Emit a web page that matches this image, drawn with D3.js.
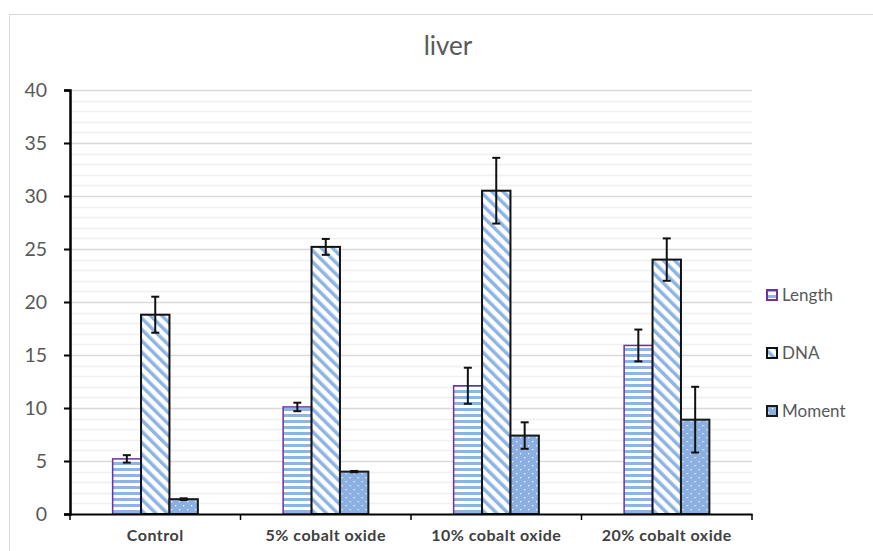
<!DOCTYPE html>
<html><head><meta charset="utf-8">
<script src="https://cdn.jsdelivr.net/npm/d3@7"></script>
<style>body{margin:0;background:#fff;font-family:Lato,"Open Sans","Liberation Sans",sans-serif}</style>
</head><body><svg id="c" width="873" height="551"></svg>
<script>
const categories = ["Control", "5% cobalt oxide", "10% cobalt oxide", "20% cobalt oxide"];
const seriesNames = ["Length", "DNA", "Moment"];
const lengthVals = [5.2, 10.1, 12.1, 15.9];
const dnaVals = [18.8, 25.2, 30.5, 24.0];
const momentVals = [1.4, 4.0, 7.4, 8.9];
const lengthErr = [0.35, 0.4, 1.7, 1.5];
const dnaErr = [1.7, 0.75, 3.1, 2.0];
const momentErr = [0.08, 0.06, 1.25, 3.1];
const yTicks = [0, 5, 10, 15, 20, 25, 30, 35, 40];

const svg = d3.select("#c");
const defs = svg.append("defs");
const blue = "#8db4e2";
const FONT = "Lato, 'Open Sans', sans-serif";
// patterns
const p1 = defs.append("pattern").attr("id","pH").attr("patternUnits","userSpaceOnUse").attr("width",6).attr("height",6);
p1.append("rect").attr("width",6).attr("height",6).attr("fill","#fff");
p1.append("rect").attr("y",0).attr("width",6).attr("height",3).attr("fill",blue);
const p2 = defs.append("pattern").attr("id","pD").attr("patternUnits","userSpaceOnUse").attr("width",8).attr("height",8).attr("patternTransform","rotate(-45)");
p2.append("rect").attr("width",8).attr("height",8).attr("fill","#fff");
p2.append("rect").attr("x",0).attr("width",3.5).attr("height",8).attr("fill",blue);
const p3 = defs.append("pattern").attr("id","pM").attr("patternUnits","userSpaceOnUse").attr("width",8).attr("height",8);
p3.append("rect").attr("width",8).attr("height",8).attr("fill","#8aafe0");
p3.append("rect").attr("x",1).attr("y",1).attr("width",1.3).attr("height",1.3).attr("fill","#eef4fc");
p3.append("rect").attr("x",5).attr("y",5).attr("width",1.3).attr("height",1.3).attr("fill","#eef4fc");

// frame
svg.append("rect").attr("x",9.5).attr("y",14.5).attr("width",900).attr("height",600).attr("fill","none").attr("stroke","#d9d9d9");

const pL = 70, pR = 752, pT = 90, pB = 514;
const x0 = d3.scaleBand().domain(categories).range([pL, pR]).paddingInner(0).paddingOuter(0);
const bw = x0.bandwidth();
const x1 = d3.scaleBand().domain(seriesNames).range([0, bw]).paddingInner(0).paddingOuter(1.5);
const y = d3.scaleLinear().domain([0, 40]).range([pB, pT]);

// minor gridlines
const minor = d3.range(1, 41).filter(v => v % 5 !== 0);
svg.append("g").selectAll("line").data(minor).join("line")
  .attr("x1", pL).attr("x2", pR).attr("y1", d => Math.round(y(d))+0.5).attr("y2", d => Math.round(y(d))+0.5)
  .attr("stroke","#f0f0f0").attr("stroke-width",1.5);
svg.append("g").selectAll("line").data(yTicks.filter(v=>v>0)).join("line")
  .attr("x1", pL).attr("x2", pR).attr("y1", d => Math.round(y(d))+0.5).attr("y2", d => Math.round(y(d))+0.5)
  .attr("stroke","#d9d9d9").attr("stroke-width",1.5);

// title
svg.append("text").attr("x",448).attr("y",55).attr("text-anchor","middle").attr("font-size",26).attr("font-family",FONT).attr("fill","#595959").text("liver");

const data = categories.map((c,i)=>({c, vals:[
  {s:"Length", v:lengthVals[i], e:lengthErr[i], fill:"url(#pH)", stroke:"#7030a0", sw:1.5},
  {s:"DNA", v:dnaVals[i], e:dnaErr[i], fill:"url(#pD)", stroke:"#111", sw:2},
  {s:"Moment", v:momentVals[i], e:momentErr[i], fill:"url(#pM)", stroke:"#1a1a1a", sw:2}
]}));

const g = svg.append("g").selectAll("g").data(data).join("g").attr("transform", d=>`translate(${x0(d.c)},0)`);
g.selectAll("rect").data(d=>d.vals).join("rect")
  .attr("x", d=>x1(d.s)).attr("width", x1.bandwidth())
  .attr("y", d=>y(d.v)).attr("height", d=>y(0)-y(d.v))
  .attr("fill", d=>d.fill).attr("stroke", d=>d.stroke).attr("stroke-width", d=>d.sw);
// error bars
const eb = g.selectAll("g.eb").data(d=>d.vals).join("g").attr("class","eb")
  .attr("transform", d=>`translate(${x1(d.s)+x1.bandwidth()/2},0)`);
eb.append("line").attr("y1", d=>y(d.v+d.e)).attr("y2", d=>y(d.v-d.e)).attr("stroke","#111").attr("stroke-width",2);
eb.append("line").attr("x1",-4).attr("x2",4).attr("y1", d=>y(d.v+d.e)).attr("y2", d=>y(d.v+d.e)).attr("stroke","#111").attr("stroke-width",2);
eb.append("line").attr("x1",-4).attr("x2",4).attr("y1", d=>y(d.v-d.e)).attr("y2", d=>y(d.v-d.e)).attr("stroke","#111").attr("stroke-width",2);

// y axis
const ya = svg.append("g").attr("transform",`translate(${pL},0)`)
  .call(d3.axisLeft(y).tickValues(yTicks).tickSize(6).tickPadding(17));
ya.attr("font-family",FONT);
ya.select(".domain").attr("stroke","#000").attr("stroke-width",2.5);
ya.selectAll(".tick line").attr("stroke","#000").attr("stroke-width",2);
ya.selectAll("text").attr("font-size",19.5).attr("fill","#595959");

// x axis
const xa = svg.append("g").attr("transform",`translate(0,${pB})`)
  .call(d3.axisBottom(x0).tickSize(0).tickPadding(16));
xa.attr("font-family",FONT);
xa.select(".domain").attr("stroke","#000").attr("stroke-width",2);
xa.selectAll("text").attr("font-size",16).attr("letter-spacing",0.5).attr("font-weight","bold").attr("fill","#404040");
const bounds = categories.map(c=>x0(c)).concat([pR]);
svg.append("g").selectAll("line").data(bounds).join("line")
  .attr("x1",d=>d).attr("x2",d=>d).attr("y1",pB).attr("y2",pB+6).attr("stroke","#000").attr("stroke-width",1.5);

// legend
const legY = [295, 353, 411];
const lg = svg.append("g").selectAll("g").data(data[0].vals).join("g").attr("transform",(d,i)=>`translate(767,${legY[i]})`);
lg.append("rect").attr("x",0).attr("y",-5).attr("width",10).attr("height",10).attr("fill",d=>d.fill).attr("stroke",d=>d.stroke).attr("stroke-width",2);
lg.append("text").attr("x",15).attr("y",6).attr("font-size",17).attr("font-family",FONT).attr("fill","#595959").text(d=>d.s);
</script></body></html>
